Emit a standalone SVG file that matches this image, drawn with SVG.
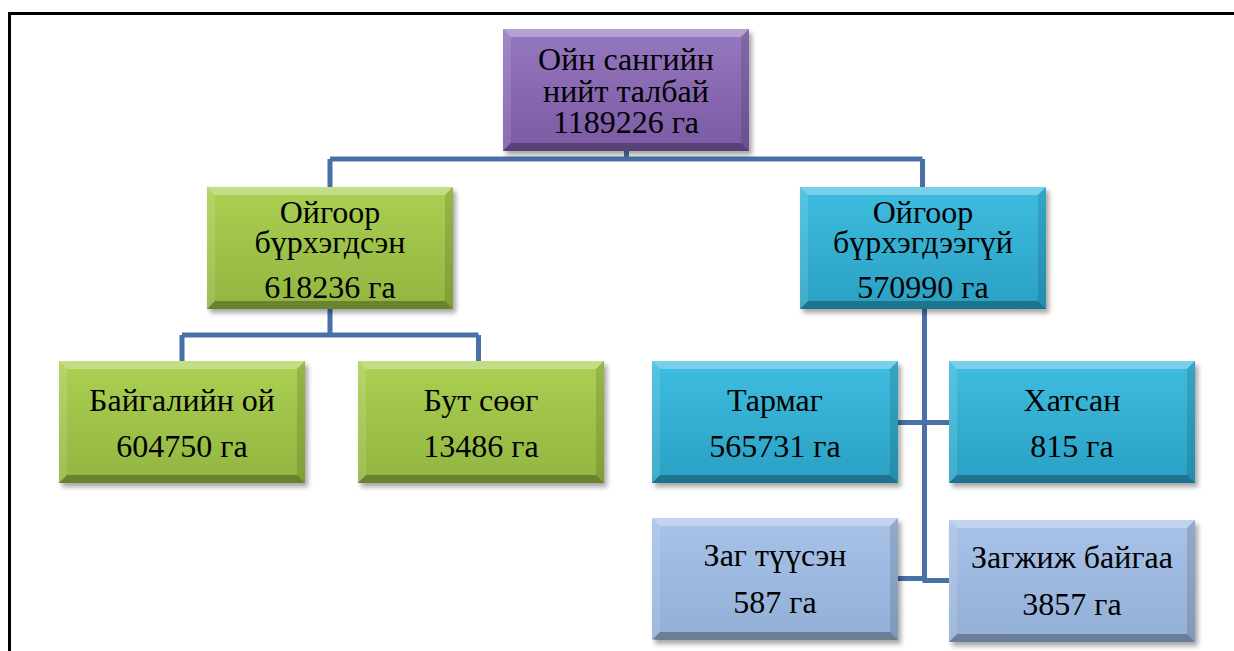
<svg xmlns="http://www.w3.org/2000/svg" xmlns:xlink="http://www.w3.org/1999/xlink" width="1234" height="651" viewBox="0 0 1234 651">
<style>
.t{font-family:"Liberation Serif","Times New Roman","DejaVu Serif",serif;font-size:32px;fill:#000;text-anchor:middle}
.c{fill:none;stroke:#4a70a8;stroke-width:5}
.frame{fill:none;stroke:#000;stroke-width:3}
</style>
<defs>
<linearGradient id="gP" x1="0" y1="0" x2="0" y2="1"><stop offset="0" stop-color="#9678c0"/><stop offset="1" stop-color="#7a5aa3"/></linearGradient>
<linearGradient id="gG" x1="0" y1="0" x2="0" y2="1"><stop offset="0" stop-color="#abd052"/><stop offset="1" stop-color="#92b540"/></linearGradient>
<linearGradient id="gB" x1="0" y1="0" x2="0" y2="1"><stop offset="0" stop-color="#3ebde0"/><stop offset="1" stop-color="#2aa0c3"/></linearGradient>
<linearGradient id="gL" x1="0" y1="0" x2="0" y2="1"><stop offset="0" stop-color="#a8c2e8"/><stop offset="1" stop-color="#93afd6"/></linearGradient>
<filter id="sh" x="-10%" y="-10%" width="130%" height="140%"><feGaussianBlur stdDeviation="2.5"/></filter>
<rect id="shd" width="246" height="122" fill="#000" opacity="0.35" filter="url(#sh)"/>
<g id="bev">
<polygon points="0,0 246,0 238,8 8,8" fill="#fff" fill-opacity="0.3"/>
<polygon points="0,0 8,8 8,114 0,122" fill="#fff" fill-opacity="0.12"/>
<polygon points="246,0 238,8 238,114 246,122" fill="#000" fill-opacity="0.12"/>
<polygon points="0,122 8,114 238,114 246,122" fill="#000" fill-opacity="0.28"/>
</g>
</defs>
<rect width="1234" height="651" fill="#fff"/>
<path class="frame" d="M9.5,651 V13.5 H1234"/>
<g id="connectors">
<path class="c" d="M626.5,150 V159 M330,159 H922.5 M330,159 V187 M922.5,159 V187"/>
<path class="c" d="M330,309 V335 M182,335 H478.5 M182,335 V361 M478.5,335 V361"/>
<path class="c" d="M924.5,309 V581 M896,422.5 H949 M896,578.5 H922.5 M922.5,580.5 H949"/>
</g>
<g id="n-total" transform="translate(503,29)"><use xlink:href="#shd" x="3" y="4"/><rect width="246" height="122" fill="url(#gP)"/><use xlink:href="#bev"/>
<text class="t" x="123" y="41">Ойн сангийн</text><text class="t" x="123" y="73">нийт талбай</text><text class="t" x="123" y="104">1189226 га</text></g>
<g id="n-forested" transform="translate(207,187)"><use xlink:href="#shd" x="3" y="4"/><rect width="246" height="122" fill="url(#gG)"/><use xlink:href="#bev"/>
<text class="t" x="123" y="36">Ойгоор</text><text class="t" x="123" y="66">бүрхэгдсэн</text><text class="t" x="123" y="111">618236 га</text></g>
<g id="n-nonforested" transform="translate(800,187)"><use xlink:href="#shd" x="3" y="4"/><rect width="246" height="122" fill="url(#gB)"/><use xlink:href="#bev"/>
<text class="t" x="123" y="36">Ойгоор</text><text class="t" x="123" y="66">бүрхэгдээгүй</text><text class="t" x="123" y="111">570990 га</text></g>
<g id="n-natural" transform="translate(59,361)"><use xlink:href="#shd" x="3" y="4"/><rect width="246" height="122" fill="url(#gG)"/><use xlink:href="#bev"/>
<text class="t" x="123" y="50">Байгалийн ой</text><text class="t" x="123" y="96">604750 га</text></g>
<g id="n-shrub" transform="translate(358,361)"><use xlink:href="#shd" x="3" y="4"/><rect width="246" height="122" fill="url(#gG)"/><use xlink:href="#bev"/>
<text class="t" x="123" y="50">Бут сөөг</text><text class="t" x="123" y="96">13486 га</text></g>
<g id="n-sparse" transform="translate(652,361)"><use xlink:href="#shd" x="3" y="4"/><rect width="246" height="122" fill="url(#gB)"/><use xlink:href="#bev"/>
<text class="t" x="123" y="50">Тармаг</text><text class="t" x="123" y="96">565731 га</text></g>
<g id="n-dried" transform="translate(949,361)"><use xlink:href="#shd" x="3" y="4"/><rect width="246" height="122" fill="url(#gB)"/><use xlink:href="#bev"/>
<text class="t" x="123" y="50">Хатсан</text><text class="t" x="123" y="96">815 га</text></g>
<g id="n-saxaul" transform="translate(652,518)"><use xlink:href="#shd" x="3" y="4"/><rect width="246" height="121" fill="url(#gL)"/><use xlink:href="#bev"/>
<text class="t" x="123" y="48">Заг түүсэн</text><text class="t" x="123" y="95">587 га</text></g>
<g id="n-saxaul-growing" transform="translate(949,520)"><use xlink:href="#shd" x="3" y="4"/><rect width="246" height="122" fill="url(#gL)"/><use xlink:href="#bev"/>
<text class="t" x="123" y="48">Загжиж байгаа</text><text class="t" x="123" y="95">3857 га</text></g>
</svg>
